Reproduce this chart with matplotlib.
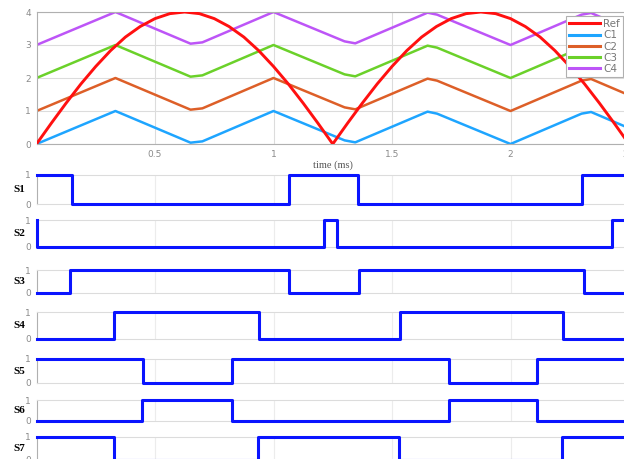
import numpy as np
import matplotlib
matplotlib.use("Agg")
import matplotlib.pyplot as plt

# ---- reference (rectified sine), sampled every 0.0625 ms ----
ref_t = [i * 0.0625 for i in range(41)]
ref_v = [0.00, 0.63, 1.24, 1.82, 2.35, 2.83, 3.24, 3.56, 3.80, 3.95, 4.00,
         3.95, 3.80, 3.56, 3.24, 2.83, 2.35, 1.82, 1.24, 0.63, 0.00,
         0.63, 1.24, 1.82, 2.35, 2.83, 3.24, 3.56, 3.80, 3.95, 4.00,
         3.95, 3.80, 3.56, 3.24, 2.83, 2.35, 1.82, 1.24, 0.63, 0.00]

# ---- level-shifted triangular carriers (vertices of C1) ----
car_t = [0, 0.333, 0.65, 0.70, 1.0, 1.30, 1.345, 1.65, 1.69, 2.0, 2.30, 2.34, 2.5]
c1_v = [0, 1.0, 0.04, 0.08, 1.0, 0.11, 0.05, 0.98, 0.92, 0, 0.92, 0.97, 0.48]
car_levels = [0, 1, 2, 3]
car_names = ["C1", "C2", "C3", "C4"]
car_colors = ["#1ea5ff", "#dd5f28", "#6bd12a", "#bd55f7"]

# ---- switching signals: edge times (ms) and starting state ----
sw_names = ["S1", "S2", "S3", "S4", "S5", "S6", "S7"]
sw_start = [1, 1, 0, 0, 1, 0, 1]
sw_edges = [
    [0.149, 1.064, 1.357, 2.302],
    [0.0, 1.213, 1.270, 2.430],
    [0.141, 1.067, 1.362, 2.310],
    [0.328, 0.937, 1.534, 2.220],
    [0.448, 0.826, 1.742, 2.113],
    [0.445, 0.823, 1.740, 2.110],
    [0.328, 0.935, 1.528, 2.216],
]
# vertical extent of each switch panel (pixel rows of the 1 and 0 levels)
sw_rows = [(175, 204), (220, 247), (270, 293), (312, 339),
           (359, 383), (400, 421), (437, 460)]

W, H = 624, 459
t_end = 2.5
x0_px, px_per_ms = 36.5, 237.0
ax_left = x0_px / W
ax_width = t_end * px_per_ms / W

fig = plt.figure(figsize=(W / 100, H / 100), dpi=100)

grid_c = "#dcdcdc"
tick_c = "#8a8a8a"

# ==========================
# Carrier / reference panel
# ==========================
ax = fig.add_axes([ax_left, 1 - 144 / H, ax_width, (144 - 12) / H])
ax.plot(ref_t, ref_v, color="#ff1010", lw=2.1, label="Ref", zorder=5)
for lvl, name, col in zip(car_levels, car_names, car_colors):
    ax.plot(car_t, [v + lvl for v in c1_v], color=col, lw=1.8, label=name)
ax.set_xlim(0, t_end)
ax.set_ylim(0, 4)
ax.set_xticks([0.5, 1, 1.5, 2, 2.5])
ax.set_xticklabels(["0.5", "1", "1.5", "2", "2.5"])
ax.set_yticks([0, 1, 2, 3, 4])
ax.grid(True, color=grid_c, lw=0.8)
ax.tick_params(length=0, labelsize=6.5, colors=tick_c, pad=4)
for s in ax.spines.values():
    s.set_color("#b0b0b0")
    s.set_linewidth(0.8)
ax.set_xlabel("time (ms)", fontsize=7.5, color="#555555",
              family="Liberation Serif", labelpad=1)
leg = ax.legend(loc="upper right", bbox_to_anchor=(623 / W, 1 - 16 / H),
                bbox_transform=fig.transFigure, fontsize=7.5, handlelength=3.0,
                handletextpad=0.3, borderpad=0.3, labelspacing=0.12,
                borderaxespad=0, fancybox=False, framealpha=1)
leg.get_frame().set_edgecolor("#b0b0b0")
leg.get_frame().set_linewidth(0.8)
for txt in leg.get_texts():
    txt.set_color("#777777")
for ln in leg.get_lines():
    ln.set_linewidth(2.2)

# ==========================
# Switching signal panels
# ==========================
for name, start, edges, (r1, r0) in zip(sw_names, sw_start, sw_edges, sw_rows):
    a = fig.add_axes([ax_left, 1 - r0 / H, ax_width, (r0 - r1) / H])
    xs = [0.0] + edges + [t_end]
    ys = [start]
    for _ in edges:
        ys.append(1 - ys[-1])
    ys.append(ys[-1])
    a.step(xs, ys, where="post", color="#0a14ff", lw=2.2, clip_on=False, zorder=5)
    a.set_xlim(0, t_end)
    a.set_ylim(0, 1)
    a.set_xticks([0.5, 1, 1.5, 2])
    a.set_xticklabels([])
    a.set_yticks([0, 1])
    a.grid(True, axis="x", color="#ececec", lw=0.8)
    a.tick_params(length=0, labelsize=6.5, colors=tick_c, pad=4)
    for s in a.spines.values():
        s.set_color(grid_c)
        s.set_linewidth(0.8)
    a.spines["left"].set_color("#b0b0b0")
    fig.text(25 / W, 1 - (r1 + r0) / 2 / H, name, ha="right", va="center",
             fontsize=8, fontweight="bold", family="Liberation Serif")

fig.savefig("out.png", dpi=100)
